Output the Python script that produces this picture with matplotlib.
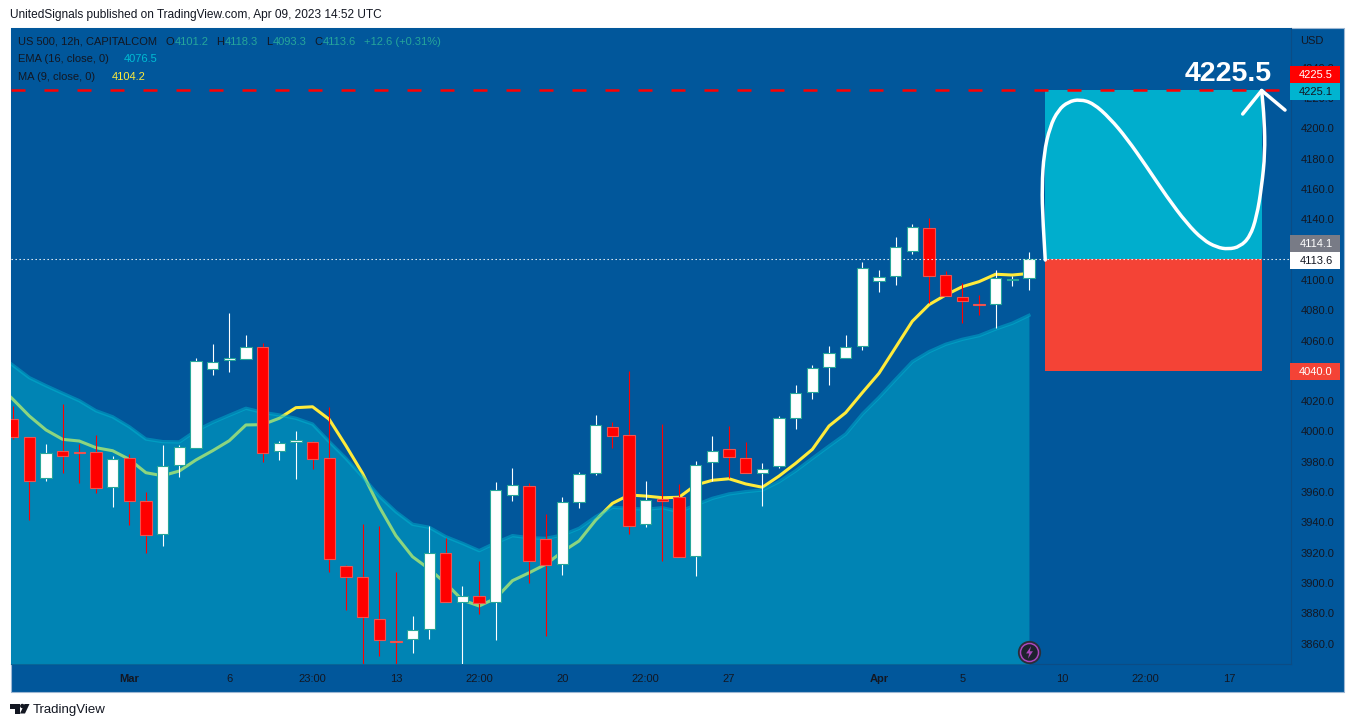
#!/usr/bin/python3

import matplotlib
matplotlib.use("Agg")
import numpy as np
from matplotlib import pyplot as plt
from matplotlib.patches import Rectangle, PathPatch, Polygon, Ellipse
from matplotlib.path import Path

W, H = 1354, 727

# candles, 12h
opens = [4008.0, 3996.2, 3969.1, 3986.9, 3986.7, 3986.3, 3963.2, 3982.3, 3953.9, 3932.2,
         3977.7, 3988.9, 4041.0, 4046.9, 4047.6, 4055.5, 3986.9, 3992.9, 3992.9, 3982.3,
         3911.1, 3903.8, 3876.1, 3861.6, 3862.9, 3869.5, 3919.6, 3887.3, 3891.3, 3887.3,
         3957.9, 3964.2, 3928.9, 3912.4, 3953.3, 3972.4, 4002.8, 3997.5, 3938.8, 3955.3,
         3956.6, 3917.9, 3979.7, 3988.2, 3982.3, 3972.4, 3977.0, 4008.7, 4025.8, 4042.3,
         4048.3, 4056.2, 4099.1, 4102.4, 4118.8, 4134.4, 4103.4, 4088.9, 4084.3, 4083.9,
         4100.1, 4101.2]
highs = [4016.8, 3996.2, 3991.7, 4018.1, 3991.7, 3997.7, 3983.6, 3985.1, 3960.1, 3990.9,
         3990.9, 4048.5, 4057.7, 4078.1, 4063.6, 4058.2, 3993.7, 4000.3, 3993.5, 4015.9,
         3911.7, 3939.0, 3937.9, 3907.5, 3878.3, 3937.7, 3929.9, 3898.1, 3914.6, 3966.7,
         3975.9, 3965.8, 3945.6, 3956.8, 3973.3, 4010.9, 4006.4, 4039.7, 3967.3, 4004.9,
         3965.5, 3980.5, 3997.0, 4003.6, 3993.3, 3979.2, 4010.2, 4030.5, 4043.8, 4056.4,
         4063.6, 4111.8, 4106.3, 4128.3, 4136.7, 4140.6, 4105.7, 4097.7, 4089.8, 4106.3,
         4102.6, 4118.3]
lows = [3994.8, 3941.6, 3967.5, 3972.4, 3966.2, 3959.2, 3950.4, 3938.3, 3920.0, 3924.5,
        3970.2, 3988.9, 4037.2, 4039.4, 4047.6, 3980.1, 3981.2, 3968.7, 3975.2, 3907.3,
        3882.2, 3846.0, 3852.1, 3846.0, 3853.9, 3863.3, 3887.3, 3846.0, 3879.8, 3862.5,
        3954.1, 3899.8, 3865.3, 3905.3, 3949.5, 3971.3, 3989.1, 3932.4, 3937.0, 3914.6,
        3917.0, 3904.7, 3967.5, 3969.1, 3972.4, 3951.0, 3976.1, 4001.8, 4021.6, 4030.9,
        4048.3, 4053.9, 4092.2, 4096.8, 4117.3, 4084.5, 4089.2, 4071.7, 4076.8, 4068.4,
        4096.0, 4093.3]
closes = [3996.6, 3967.5, 3986.0, 3984.0, 3985.8, 3962.9, 3982.0, 3954.3, 3931.5, 3977.4,
          3989.6, 4046.7, 4046.0, 4048.7, 4055.5, 3986.0, 3992.6, 3994.2, 3981.6, 3916.1,
          3903.7, 3877.4, 3862.3, 3861.3, 3869.2, 3920.0, 3887.3, 3891.7, 3887.1, 3961.6,
          3964.9, 3914.8, 3911.7, 3953.7, 3972.1, 4004.1, 3997.2, 3937.4, 3955.0, 3954.1,
          3917.0, 3978.1, 3987.3, 3983.4, 3972.4, 3975.4, 4009.1, 4025.6, 4042.1, 4052.0,
          4055.9, 4108.0, 4102.1, 4121.9, 4135.1, 4102.4, 4089.2, 4085.9, 4083.6, 4101.2,
          4100.6, 4113.6]

# indicators, they start one bar left of the first visible candle
ma_values = [4032.0, 4021.4, 4010.2, 4001.0, 3994.8, 3993.7, 3989.3, 3987.3, 3981.6, 3972.8,
             3970.8, 3973.9, 3981.2, 3987.3, 3993.9, 4004.3, 4004.5, 4008.7, 4015.7, 4016.3,
             4008.0, 3990.7, 3972.4, 3950.4, 3931.3, 3917.4, 3909.3, 3899.8, 3888.8, 3884.9,
             3890.0, 3901.6, 3906.8, 3912.4, 3920.7, 3927.8, 3941.6, 3952.6, 3958.1, 3957.4,
             3956.3, 3956.6, 3964.7, 3967.8, 3968.8, 3965.4, 3963.2, 3970.6, 3979.0, 3988.2,
             4003.6, 4012.4, 4025.6, 4038.4, 4055.5, 4072.7, 4083.6, 4090.0, 4095.5, 4098.8,
             4103.7, 4103.2, 4104.2]
ema_values = [4051.8, 4043.8, 4035.5, 4030.2, 4025.2, 4020.3, 4013.7, 4009.7, 4003.1, 3995.0,
              3993.3, 3993.1, 4000.5, 4006.0, 4010.7, 4015.3, 4012.6, 4010.9, 4008.7, 4004.9,
              3993.3, 3982.3, 3970.2, 3957.4, 3947.1, 3938.8, 3936.8, 3930.6, 3926.2, 3921.4,
              3926.6, 3931.3, 3929.9, 3929.5, 3931.7, 3936.1, 3943.8, 3950.0, 3949.3, 3948.7,
              3949.7, 3947.1, 3951.5, 3955.9, 3958.8, 3960.3, 3961.4, 3966.9, 3974.1, 3982.3,
              3990.4, 3998.3, 4011.5, 4022.5, 4034.4, 4046.0, 4052.6, 4057.5, 4060.8, 4063.2,
              4067.6, 4071.4, 4076.6]

# hand drawn arrow on the position box
arrow_x = [61.98, 61.83, 61.78, 61.90, 62.26, 62.76, 63.36, 64.06, 64.86, 65.86, 66.87, 68.07,
           69.27, 70.47, 71.46, 72.27, 72.96, 73.67, 74.27, 74.67, 74.97, 75.17, 75.13, 74.97]
arrow_y = [4113.1, 4139.5, 4161.5, 4183.5, 4201.0, 4212.0, 4217.5, 4219.1, 4216.5, 4206.6,
           4193.4, 4174.6, 4154.9, 4137.3, 4126.3, 4121.5, 4120.2, 4121.9, 4128.5, 4141.7,
           4161.5, 4183.5, 4205.4, 4224.9]
head_x = [73.83, 74.97, 76.37]
head_y = [4209.4, 4224.9, 4212.0]

tick_pos = [7, 13, 18, 23, 28, 33, 38, 43, 52, 57, 63, 68, 73]
tick_labels = ["Mar", "6", "23:00", "13", "22:00", "20", "22:00", "27", "Apr", "5", "10", "22:00", "17"]
# 4040 and 4120 sit behind the price tags
price_ticks = [p for p in range(3860, 4260, 20) if p not in (4040, 4120)]

entry, target, stop = 4113.6, 4225.1, 4040.0
red_line = 4225.5

BG = "#01579B"
DARK = "#131722"
FONT = "Liberation Sans"
plt.rcParams["font.family"] = FONT


def px_text(x, y, s, color=DARK, size=8.0, **kw):
    kw.setdefault("va", "center")
    fig.text(x / W, 1 - y / H, s, color=color, fontsize=size, **kw)


def px_rect(x0, y0, x1, y1, **kw):
    fig.add_artist(Rectangle((x0 / W, 1 - y1 / H), (x1 - x0) / W, (y1 - y0) / H,
                             transform=fig.transFigure, **kw))


fig = plt.figure(figsize=(W / 100, H / 100), dpi=100, facecolor="white")
px_rect(10.5, 27.5, 1343.5, 691.5, facecolor=BG, edgecolor="#9DB7D3", linewidth=0.8, zorder=-1)

ax = fig.add_axes([11 / W, 1 - 664 / H, 1280 / W, 636 / H], facecolor=BG)
ax.set_xlim(-0.1, 76.73)
ax.set_ylim(4284.6 - 0.6596 * 664, 4284.6 - 0.6596 * 28)

idx = np.arange(len(opens))
line_idx = np.arange(-1, len(opens))

ax.plot(line_idx, ma_values, color="#FFEB3B", lw=2.2, zorder=2, solid_joinstyle="round")
ax.fill_between(line_idx, ema_values, ax.get_ylim()[0], color="#00BCD4", alpha=0.45, lw=0, zorder=3)
ax.plot(line_idx, ema_values, color="#00BCD4", alpha=0.45, lw=2.4, zorder=3.5)

o = np.array(opens)
c = np.array(closes)
up = c >= o
wick_colors = ["white" if u else "#FF0000" for u in up]
ax.vlines(idx, lows, highs, colors=wick_colors, lw=0.8, zorder=5)
ax.bar(idx, np.abs(c - o), bottom=np.minimum(o, c), width=0.68,
       color=["white" if u else "#FF0000" for u in up],
       edgecolor=["#26A69A" if u else "#EF5350" for u in up], lw=0.8, zorder=6)

# long position box
ax.fill_between([61.96, 75], entry, target, color="#00AECD", lw=0, zorder=4)
ax.fill_between([61.96, 75], stop, entry, color="#F44336", lw=0, zorder=4)

ax.plot([-0.1, 76], [red_line, red_line], color="#FF0000", lw=1.8, ls=(0, (5.6, 7.6)), zorder=7)
ax.axhline(closes[-1], color="white", lw=0.8, ls=(0, (1.2, 2.4)), zorder=7)

# smooth the drawn curve through the midpoints
verts = [(arrow_x[0], arrow_y[0])]
codes = [Path.MOVETO]
for i in range(1, len(arrow_x) - 1):
    verts.append((arrow_x[i], arrow_y[i]))
    verts.append(((arrow_x[i] + arrow_x[i + 1]) / 2, (arrow_y[i] + arrow_y[i + 1]) / 2))
    codes += [Path.CURVE3, Path.CURVE3]
verts.append((arrow_x[-1], arrow_y[-1]))
codes.append(Path.LINETO)
ax.add_patch(PathPatch(Path(verts, codes), fill=False, edgecolor="white", lw=2.5, zorder=8, capstyle="round"))
ax.plot(head_x, head_y, color="white", lw=2.5, zorder=8, solid_capstyle="round", clip_on=False)
ax.text(75.6, red_line + 10.5, "4225.5", color="white", fontsize=20.5, fontweight="bold",
        ha="right", va="center", zorder=9)

# lightning badge
ax.plot([61], [3854.5], "o", ms=15.5, mfc="#1E222D", mec="#2A2E39", mew=1.2, zorder=9)
ax.plot([61], [3854.5], "o", ms=13.0, mfc="#1E222D", mec="#AB47BC", mew=1.1, zorder=9)
bolt = Path([(0.25, 1), (-0.55, -0.15), (-0.05, -0.15), (-0.25, -1), (0.55, 0.2), (0.05, 0.2), (0.25, 1)])
ax.plot([61], [3854.5], marker=bolt, ms=9, mfc="#AB47BC", mec="none", zorder=10)

for side in ["top", "left"]:
    ax.spines[side].set_visible(False)
for side in ["right", "bottom"]:
    ax.spines[side].set_color("#0B4C85")
    ax.spines[side].set_linewidth(0.8)

ax.set_xticks(tick_pos)
ax.set_xticklabels(tick_labels)
ax.yaxis.tick_right()
ax.set_yticks(price_ticks)
ax.set_yticklabels(["%.1f" % p for p in price_ticks])
ax.tick_params(axis="x", length=0, pad=7, labelsize=8, labelcolor=DARK)
ax.tick_params(axis="y", length=0, pad=7, labelsize=8, labelcolor=DARK)
for lab in ax.get_xticklabels():
    if lab.get_text() in ("Mar", "Apr"):
        lab.set_fontweight("bold")

# price tags
tags = [(65.7, 82.7, "#FF0000", "4225.5", "white"),
        (82.7, 100, "#00B4D0", "4225.1", DARK),
        (235, 252.3, "#787B86", "4114.1", "white"),
        (252.3, 269, "white", "4113.6", DARK),
        (363, 380, "#F44336", "4040.0", "white")]
for y0, y1, bg, s, fg in tags:
    px_rect(1290, y0, 1340, y1, facecolor=bg, edgecolor="none", zorder=4)
    px_text(1316, (y0 + y1) / 2 + 0.5, s, color=fg, ha="center", zorder=5)
px_text(1300, 40.5, "USD")

# headers
px_text(10, 15, "UnitedSignals published on TradingView.com, Apr 09, 2023 14:52 UTC", size=8.6)
GREEN = "#26A69A"
px_text(18, 42, "US 500, 12h, CAPITALCOM")
for x, s in [(174.5, "O"), (224.5, "H"), (272.5, "L"), (322.5, "C")]:
    px_text(x, 42, s, ha="right")
for x, s in [(175, "4101.2"), (225, "4118.3"), (273, "4093.3"), (323, "4113.6"), (364, "+12.6 (+0.31%)")]:
    px_text(x, 42, s, color=GREEN)
px_text(18, 59, "EMA (16, close, 0)")
px_text(124, 59, "4076.5", color="#00BCD4")
px_text(18, 76.5, "MA (9, close, 0)")
px_text(112, 76.5, "4104.2", color="#FFEB3B")

# footer logo
px_rect(10, 704, 19.5, 708.5, facecolor=DARK, edgecolor="none")
px_rect(15, 704, 19.5, 713.5, facecolor=DARK, edgecolor="none")
fig.add_artist(Ellipse((22.3 / W, 1 - 706 / H), 4.4 / W, 4.4 / H, transform=fig.transFigure, facecolor=DARK, edgecolor="none"))
fig.add_artist(Polygon([(24.5 / W, 1 - 704 / H), (29.5 / W, 1 - 704 / H), (25 / W, 1 - 713.5 / H),
                        (20 / W, 1 - 713.5 / H)], transform=fig.transFigure, facecolor=DARK, edgecolor="none"))
px_text(33, 709.5, "TradingView", size=9.5)

fig.savefig("out.png", dpi=100)
plt.close()
